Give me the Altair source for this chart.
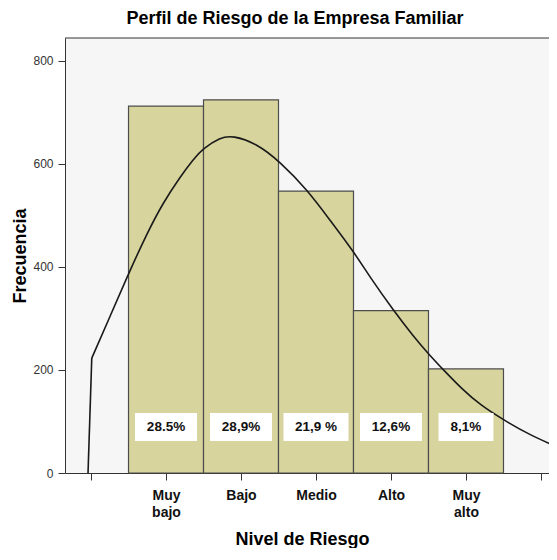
import json
import altair as alt
import pandas as pd

# ---- data ----
categorias = ["Muy bajo", "Bajo", "Medio", "Alto", "Muy alto"]
frecuencias = [712, 724, 547, 315, 202]
porcentajes = ["28.5%", "28,9%", "21,9 %", "12,6%", "8,1%"]

curva_x = [-0.04, 0.01, 0.29, 0.51, 0.75, 0.96, 1.19, 1.36, 1.49, 1.72, 1.89,
           2.21, 2.52, 2.88, 3.19, 3.50, 3.72, 4.03, 4.30, 4.50, 4.70, 4.96,
           5.19, 5.50, 5.85, 6.21]
curva_y = [0, 223, 316, 390, 466, 524, 575, 608, 629, 651, 655,
           639, 604, 550, 490, 430, 380, 316, 265, 231, 200, 161,
           132, 103, 74, 51]

x_ticks = [0, 1, 2, 3, 4, 5, 6]
y_ticks = [0, 200, 400, 600, 800]

W, H = 484, 435
FONT = "Liberation Sans"

df = pd.DataFrame({
    "nivel": categorias,
    "frecuencia": frecuencias,
    "pct": porcentajes,
    "orden": list(range(1, len(categorias) + 1)),
})
curva = pd.DataFrame({"x": curva_x, "y": curva_y})
curva_inicio = curva.iloc[:2]
curva_resto = curva.iloc[1:]

xscale = alt.Scale(domain=[-0.347, 6.107], nice=False, zero=False)
yscale = alt.Scale(domain=[0, 844], nice=False)

lookup = json.dumps([""] + categorias + [""], ensure_ascii=False)
xaxis = alt.Axis(
    values=x_ticks,
    labelExpr=f"split({lookup}[datum.value], ' ')",
    grid=False,
    domainColor="#333333",
    tickColor="#333333",
    tickSize=7,
    labelFont=FONT,
    labelFontSize=14,
    labelFontWeight="bold",
    labelColor="#111111",
    labelPadding=8,
    labelLineHeight=17,
    labelBaseline="top",
    title="Nivel de Riesgo",
    titleFont=FONT,
    titleFontSize=18,
    titleFontWeight="bold",
    titleColor="#000000",
    titleX=237,
    titleY=71,
    titleBaseline="alphabetic",
    titleAnchor="start",
    titleAlign="center",
)
yaxis = alt.Axis(
    values=y_ticks,
    grid=False,
    domainColor="#333333",
    tickColor="#333333",
    tickSize=7,
    labelFont=FONT,
    labelFontSize=12,
    labelColor="#333333",
    labelPadding=5,
    title="Frecuencia",
    titleFont=FONT,
    titleFontSize=18,
    titleFontWeight="bold",
    titleColor="#000000",
    titleX=-45,
    titleBaseline="middle",
)

bars = alt.Chart(df).mark_rect(
    fill="#d7d49d", stroke="#4d4d4d", strokeWidth=1.2
).transform_calculate(
    x0="datum.orden - 0.5", x1="datum.orden + 0.5"
).encode(
    x=alt.X("x0:Q", scale=xscale, axis=xaxis),
    x2="x1:Q",
    y=alt.Y("frecuencia:Q", scale=yscale, axis=yaxis),
    y2=alt.datum(0),
)

curve_a = alt.Chart(curva_inicio).mark_line(
    color="#1a1a1a", strokeWidth=1.6, clip=True
).encode(
    x=alt.X("x:Q", scale=xscale),
    y=alt.Y("y:Q", scale=yscale),
)
curve_b = alt.Chart(curva_resto).mark_line(
    color="#1a1a1a", strokeWidth=1.6, interpolate="basis", clip=True
).encode(
    x=alt.X("x:Q", scale=xscale),
    y=alt.Y("y:Q", scale=yscale),
)

boxes = alt.Chart(df).mark_rect(fill="white").transform_calculate(
    hw="min(27 + 7 * length(datum.pct), 65) / 2 / 75",
    bx0="datum.orden - datum.hw",
    bx1="datum.orden + datum.hw",
).encode(
    x=alt.X("bx0:Q", scale=xscale),
    x2="bx1:Q",
    y=alt.value(375),
    y2=alt.value(403),
)

labels = alt.Chart(df).mark_text(
    font=FONT, fontSize=13.5, fontWeight="bold", color="#111111", baseline="middle"
).encode(
    x=alt.X("orden:Q", scale=xscale),
    y=alt.value(389),
    text="pct:N",
)

top_border = alt.Chart(pd.DataFrame({"k": [0]})).mark_rule(
    color="#333333", strokeWidth=1
).encode(x=alt.value(0), x2=alt.value(W), y=alt.value(0))

chart = alt.layer(bars, curve_a, curve_b, boxes, labels, top_border).properties(
    width=W,
    height=H,
    title=alt.TitleParams(
        "Perfil de Riesgo de la Empresa Familiar",
        font=FONT, fontSize=18, fontWeight="bold", color="#000000",
        dx=-12, offset=10,
    ),
    autosize=alt.AutoSizeParams(type="none"),
    padding={"left": 57, "top": 30, "right": 0, "bottom": 75},
    background="white",
).configure_view(stroke=None, fill="#f6f6f6")

chart.save("out.html", embed_options={"renderer": "svg", "actions": False})
